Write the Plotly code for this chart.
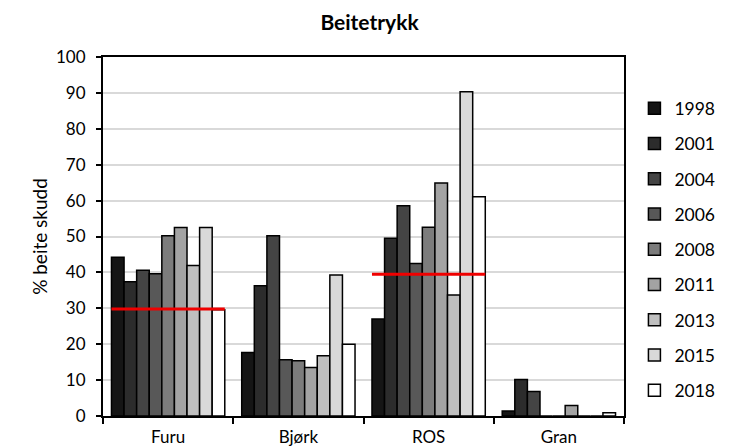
import plotly.graph_objects as go

categories = ['Furu', 'Bjørk', 'ROS', 'Gran']
years = ['1998', '2001', '2004', '2006', '2008', '2011', '2013', '2015', '2018']

v1998 = [44.2, 17.7, 27.0, 1.4]
v2001 = [37.4, 36.3, 49.5, 10.2]
v2004 = [40.6, 50.2, 58.6, 6.8]
v2006 = [39.6, 15.7, 42.5, 0.0]
v2008 = [50.2, 15.4, 52.6, 0.0]
v2011 = [52.5, 13.5, 64.9, 2.9]
v2013 = [41.9, 16.8, 33.7, 0.0]
v2015 = [52.5, 39.3, 90.3, 0.0]
v2018 = [29.6, 20.0, 61.1, 0.9]
series = [v1998, v2001, v2004, v2006, v2008, v2011, v2013, v2015, v2018]

# red reference lines per category (None = no line)
ref_values = [29.8, None, 39.5, None]

greys = ['#151515', '#2c2c2c', '#444444', '#585858', '#7c7c7c',
         '#a3a3a3', '#bfbfbf', '#d9d9d9', '#ffffff']

FONT = 'Lato'

fig = go.Figure()
for yr, vals, col in zip(years, series, greys):
    fig.add_trace(go.Bar(
        x=categories, y=vals, name=yr, legendgroup=yr,
        marker=dict(color=col, line=dict(color='black', width=1.5)),
    ))

half = 0.435
for i, r in enumerate(ref_values):
    if r is None:
        continue
    fig.add_shape(type='line', xref='x', yref='y',
                  x0=i - half, x1=i + half, y0=r, y1=r,
                  line=dict(color='#f00000', width=3), layer='above')

# page body adds 8px, so the figure is 8px smaller than the window
fig.update_layout(
    width=723, height=440, autosize=False,
    margin=dict(l=95, r=107, t=49, b=32, autoexpand=False),
    paper_bgcolor='white', plot_bgcolor='white',
    font=dict(family=FONT, size=17, color='black'),
    title=dict(text='<b>Beitetrykk</b>', x=0.5, xanchor='center',
               y=0.966, yanchor='middle', font=dict(size=21)),
    barmode='group', bargap=0.13, bargroupgap=0,
    legend=dict(x=1.02, y=0.907, xanchor='left', yanchor='top',
                tracegroupgap=9.5, font=dict(size=17.5),
                bgcolor='rgba(0,0,0,0)'),
    showlegend=True,
)
fig.update_xaxes(
    range=[-0.5, 3.5],
    showline=True, linecolor='black', linewidth=2, mirror=True,
    ticks='outside', tickson='boundaries', ticklen=6, tickwidth=1.5,
    tickcolor='black', showgrid=False, ticklabelstandoff=5,
)
fig.update_yaxes(
    range=[0, 100], dtick=10, showline=True, linecolor='black', linewidth=2,
    mirror=True, ticks='outside', ticklen=5, tickwidth=1.5, tickcolor='black',
    showgrid=True, gridcolor='#d9d9d9', gridwidth=1.5, zeroline=False,
    ticklabelstandoff=7,
    title=dict(text='% beite skudd', standoff=3, font=dict(size=19)),
)

fig.write_html('out.html')
